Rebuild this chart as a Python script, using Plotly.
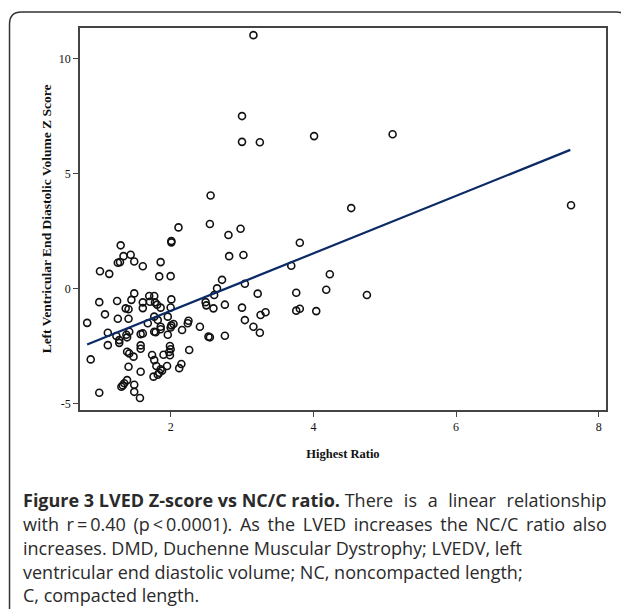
import plotly.graph_objects as go

# Highest NC/C ratio (x) and LVEDV Z score (y)
ratio = [
    2.11, 2.55, 1.30, 2.01, 2.01, 1.34, 1.44, 1.29, 1.26, 1.49, 1.61, 1.86, 1.01, 1.14, 1.84, 2.00,
    1.49, 1.45, 1.25, 1.00, 1.37, 1.41, 1.61, 1.61, 1.70, 1.77, 1.71, 1.78, 1.81, 1.86, 2.01, 2.00,
    1.08, 1.26, 1.41, 0.83, 1.77, 1.82, 1.96,
    1.12, 1.24, 1.28, 1.28, 1.39, 1.38, 1.42, 1.58, 1.61, 1.77, 1.79, 1.86, 1.86, 1.68, 1.96, 2.01,
    2.04, 2.00, 2.16, 2.24, 2.25, 2.41, 2.53, 1.12, 0.88, 1.39, 1.42, 1.58, 1.58, 1.48, 1.74, 1.77,
    1.90, 1.99, 2.00, 1.98, 1.99, 2.26, 1.80, 1.86, 1.84, 1.88, 1.95, 2.12, 2.15, 1.58, 1.41, 1.76,
    1.82, 1.39, 1.35, 1.31, 1.33, 1.49, 1.49, 1.57, 1.00,
    2.56, 2.81, 2.98, 3.81, 2.82, 3.02, 3.69, 4.23, 2.72, 2.65, 2.61, 3.04, 3.22, 3.76, 4.18, 2.49,
    2.50, 2.60, 2.76, 3.00, 3.04, 3.26, 3.33, 3.76, 3.81, 4.04, 3.16,
    2.55, 2.76, 3.25, 4.53, 7.61, 4.75, 3.16, 3.00, 3.00, 3.25, 4.01, 5.11,
]
zscore = [
    2.65, 2.80, 1.87, 2.06, 2.00, 1.40, 1.46, 1.14, 1.11, 1.17, 0.96, 1.14, 0.74, 0.63, 0.52, 0.53,
    -0.22, -0.50, -0.55, -0.60, -0.87, -0.91, -0.61, -0.86, -0.33, -0.33, -0.58, -0.61, -0.71, -0.84, -0.48, -0.83,
    -1.13, -1.32, -1.32, -1.50, -1.23, -1.38, -1.23,
    -1.93, -2.07, -2.25, -2.37, -2.13, -2.02, -1.89, -1.99, -1.96, -1.89, -1.91, -1.67, -1.78, -1.52, -2.02, -1.61,
    -1.55, -1.70, -1.81, -1.52, -1.41, -1.67, -2.10, -2.47, -3.09, -2.76, -2.83, -2.48, -2.63, -2.97, -2.90, -3.12,
    -2.89, -2.51, -2.65, -2.77, -2.91, -2.68, -3.38, -3.52, -3.67, -3.58, -3.38, -3.47, -3.29, -3.63, -3.41, -3.84,
    -3.76, -3.99, -4.13, -4.28, -4.22, -4.19, -4.50, -4.77, -4.54,
    4.04, 2.32, 2.59, 1.98, 1.40, 1.45, 0.98, 0.61, 0.37, 0.00, -0.29, 0.20, -0.23, -0.19, -0.06, -0.60,
    -0.74, -0.87, -0.71, -0.84, -1.38, -1.16, -1.04, -0.97, -0.89, -0.99, -1.67,
    -2.13, -2.06, -1.93, 3.49, 3.61, -0.29, 11.01, 7.49, 6.37, 6.35, 6.62, 6.70,
]

# Linear fit line end points
fit_x = [0.83, 7.60]
fit_y = [-2.44, 6.02]

x_ticks = [2, 4, 6, 8]
y_ticks = [-5, 0, 5, 10]

TS = "\u2009"  # thin space used to imitate the justified caption lines
caption_lines = [
    "<b>Figure 3 LVED Z-score vs NC/C ratio.</b> There " + TS * 2 + "is " + TS * 2 + "a "
    + TS * 2 + "linear " + TS * 2 + "relationship",
    "with " + TS + "r\u2009=\u20090.40 " + TS + "(p\u2009<\u20090.0001). " + TS + "As " + TS + "the "
    + TS + "LVED " + TS + "increases " + TS + "the " + TS + "NC/C " + TS + "ratio " + TS + "also",
    "increases. DMD, Duchenne Muscular Dystrophy; LVEDV, left",
    "ventricular end diastolic volume; NC, noncompacted length;",
    "C, compacted length.",
]

# The page body has an 8px margin, so the figure starts at (8, 8) of the window.
OFF = 8
W, H = 629 - OFF, 609 - OFF
PL, PR, PT, PB = 79.5 - OFF, 605.7 - OFF, 28.0 - OFF, 410.0 - OFF  # plot area (figure px)


def px_x(p):
    return (p - OFF - PL) / (PR - PL)


def px_y(p):
    return (PB - (p - OFF)) / (PB - PT)


fig = go.Figure()
fig.add_trace(go.Scatter(
    x=ratio, y=zscore, mode="markers",
    marker=dict(symbol="circle-open", size=7, color="#111111", line=dict(width=1.6)),
    showlegend=False, hoverinfo="x+y",
))
fig.add_trace(go.Scatter(
    x=fit_x, y=fit_y, mode="lines",
    line=dict(color="#0b2a66", width=2.2),
    showlegend=False, hoverinfo="skip",
))

axis_common = dict(
    showline=True, linecolor="#444444", linewidth=1.5, mirror=True,
    showgrid=False, zeroline=False,
    ticks="outside", ticklen=5, tickwidth=1.3, tickcolor="#444444",
    tickfont=dict(family="Liberation Serif", size=12, color="#111111"),
)

fig.update_layout(
    width=W, height=H,
    margin=dict(l=PL, r=W - PR, t=PT, b=H - PB, pad=0),
    paper_bgcolor="white", plot_bgcolor="white",
    xaxis=dict(range=[0.73, 8.10], tickvals=x_ticks, ticktext=[str(v) for v in x_ticks],
               title=dict(text="<b>Highest Ratio</b>", standoff=16,
                          font=dict(family="Liberation Serif", size=12.5, color="#111111")),
               **axis_common),
    yaxis=dict(range=[-5.29, 11.32], tickvals=y_ticks, ticktext=[str(v) for v in y_ticks],
               title=dict(text="<b>Left Ventricular End Diastolic Volume Z Score</b>", standoff=4,
                          font=dict(family="Liberation Serif", size=13.5, color="#111111")),
               **axis_common),
)

# Rounded outer frame (open at the bottom edge of the image); page pixel coords
r = 12
L, T, R, B = 9, 12, 628, 660
path = (
    f"M {px_x(L)},{px_y(B)} L {px_x(L)},{px_y(T + r)} "
    f"Q {px_x(L)},{px_y(T)} {px_x(L + r)},{px_y(T)} "
    f"L {px_x(R - r)},{px_y(T)} Q {px_x(R)},{px_y(T)} {px_x(R)},{px_y(T + r)} "
    f"L {px_x(R)},{px_y(B)}"
)
fig.add_shape(type="path", path=path, xref="paper", yref="paper",
              line=dict(color="#333333", width=1.5), layer="below")

line_y = [500, 524, 548, 572, 595]  # page pixel centres of caption lines
for txt, yy in zip(caption_lines, line_y):
    fig.add_annotation(
        text=txt, xref="paper", yref="paper", x=px_x(20), y=px_y(yy),
        xanchor="left", yanchor="middle", showarrow=False, align="left",
        font=dict(family="Open Sans", size=18, color="#2a2a2a"),
    )

fig.write_html("out.html")
